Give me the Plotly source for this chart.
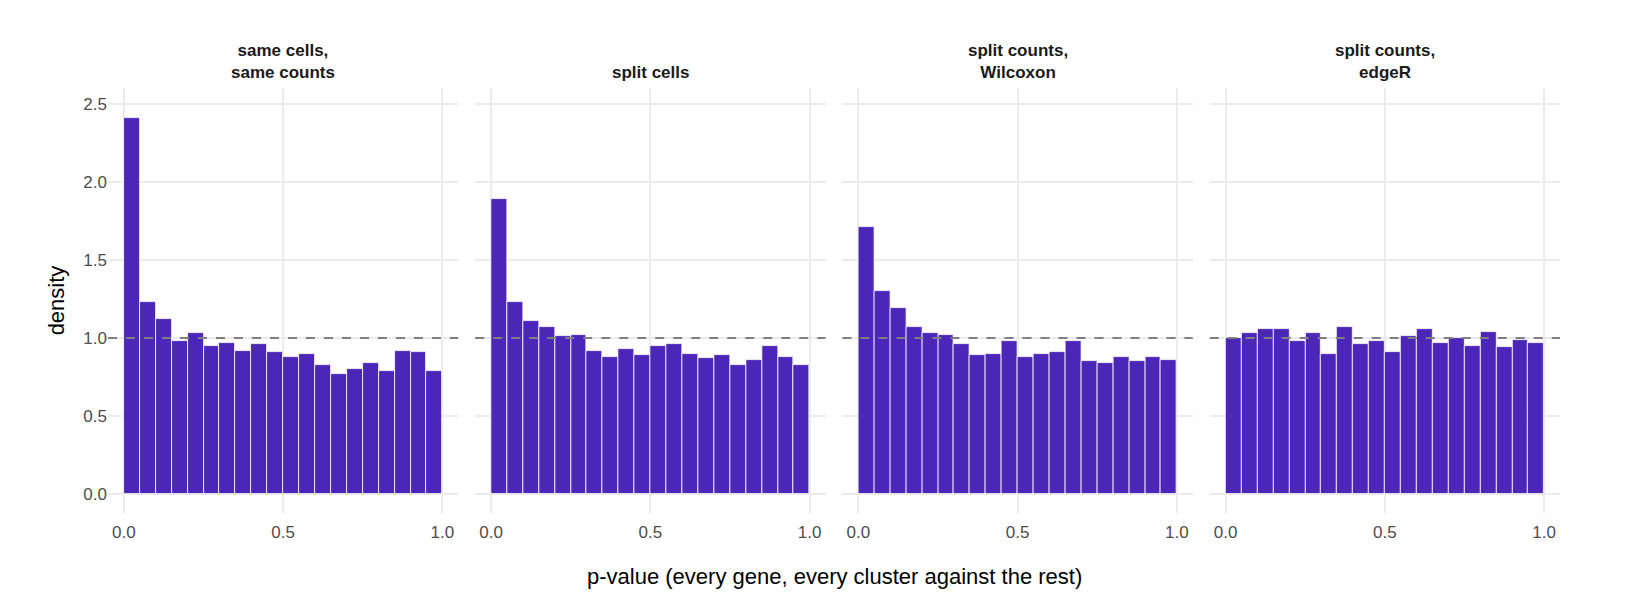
import plotly.graph_objects as go
from plotly.subplots import make_subplots

# Panel titles and bin densities (20 bins of width 0.05 on [0, 1])
PANELS = ["same cells,<br>same counts", "split cells", "split counts,<br>Wilcoxon", "split counts,<br>edgeR"]
BIN_CENTERS = [0.025 + 0.05 * i for i in range(20)]
SAME_CELLS = [2.41, 1.23, 1.12, 0.98, 1.03, 0.95, 0.97, 0.92, 0.96, 0.91,
              0.88, 0.90, 0.83, 0.77, 0.80, 0.84, 0.79, 0.92, 0.91, 0.79]
SPLIT_CELLS = [1.89, 1.23, 1.11, 1.07, 1.01, 1.02, 0.92, 0.88, 0.93, 0.89,
               0.95, 0.96, 0.90, 0.87, 0.89, 0.83, 0.86, 0.95, 0.88, 0.83]
WILCOXON = [1.71, 1.30, 1.19, 1.07, 1.03, 1.02, 0.96, 0.89, 0.90, 0.98,
            0.88, 0.90, 0.91, 0.98, 0.85, 0.84, 0.88, 0.85, 0.88, 0.86]
EDGER = [1.00, 1.03, 1.06, 1.06, 0.98, 1.03, 0.90, 1.07, 0.96, 0.98,
         0.91, 1.01, 1.06, 0.97, 1.00, 0.95, 1.04, 0.94, 0.99, 0.97]
SERIES = [SAME_CELLS, SPLIT_CELLS, WILCOXON, EDGER]

BAR_COLOR = "#4B26B8"
FONT = "Liberation Sans, Arial, sans-serif"

fig = make_subplots(rows=1, cols=4, shared_yaxes=True, horizontal_spacing=0.0117)

for i, vals in enumerate(SERIES):
    col = i + 1
    fig.add_trace(
        go.Bar(
            x=BIN_CENTERS, y=vals, width=0.05,
            marker=dict(color=BAR_COLOR, line=dict(color="white", width=0.8)),
            showlegend=False,
            hovertemplate="p=%{x:.3f}<br>density=%{y:.2f}<extra></extra>",
        ),
        row=1, col=col,
    )
    fig.add_hline(y=1, line_dash="dash", line_color="#7F7F7F", line_width=2, row=1, col=col)
    fig.update_xaxes(
        range=[-0.05, 1.05], tickvals=[0, 0.5, 1], ticktext=["0.0", "0.5", "1.0"],
        showgrid=True, gridcolor="#EBEBEB", gridwidth=1.5, zeroline=False,
        tickfont=dict(size=17, color="#4D4D4D"), ticklen=4, ticks="outside", tickcolor="white",
        row=1, col=col,
    )
    xref = "x domain" if col == 1 else f"x{col} domain"
    fig.add_annotation(
        text=f"<b>{PANELS[i]}</b>", xref=xref, yref="paper", x=0.5, y=1.01,
        yanchor="bottom", showarrow=False, font=dict(size=17, color="#1A1A1A", family=FONT),
    )

fig.update_yaxes(
    range=[-0.12, 2.6], tickvals=[0, 0.5, 1, 1.5, 2, 2.5],
    ticktext=["0.0", "0.5", "1.0", "1.5", "2.0", "2.5"],
    showgrid=True, gridcolor="#EBEBEB", gridwidth=1.5, zeroline=False,
    tickfont=dict(size=17, color="#4D4D4D"),
)
fig.update_yaxes(title=dict(text="density", font=dict(size=22, color="black"), standoff=12), row=1, col=1)

fig.add_annotation(
    text="p-value (every gene, every cluster against the rest)", xref="paper", yref="paper",
    x=0.5, y=-0.115, yanchor="top", showarrow=False, font=dict(size=22, color="black", family=FONT),
)

fig.update_layout(
    width=1632, height=614, plot_bgcolor="white", paper_bgcolor="white",
    margin=dict(l=100, r=80, t=80, b=109), bargap=0,
    font=dict(family=FONT),
)

fig.write_html("out.html")
